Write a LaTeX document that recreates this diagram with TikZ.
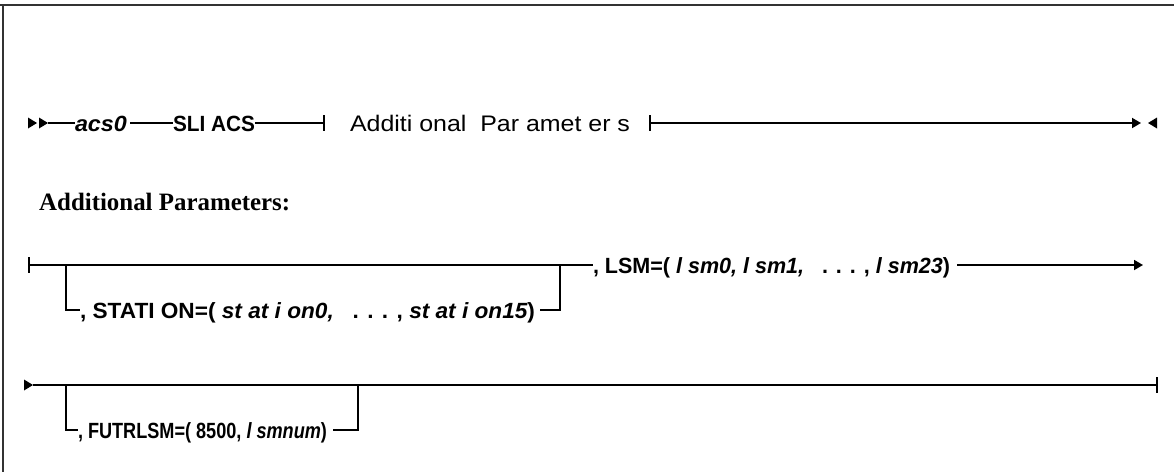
\documentclass[tikz,border=0pt]{standalone}
\usepackage{graphicx}
\usepackage{fontspec}
\setmainfont{Liberation Sans}
\newfontfamily\serifhead{Liberation Serif}
\usetikzlibrary{arrows.meta}
\newcommand\fitw[2]{\resizebox{#1pt}{\height}{#2}}
\begin{document}
\begin{tikzpicture}[x=1pt,y=-1pt,
  rail/.style={line width=1.8pt, black},
  endarrow/.style={rail, -{Triangle[length=9pt,width=10pt]}},
  tip/.style={fill=black},
  lbl/.style={anchor=base west, inner sep=0pt, outer sep=0pt, font=\bfseries\fontsize{22}{22}\selectfont},
  lblr/.style={anchor=base west, inner sep=0pt, outer sep=0pt, font=\fontsize{22.5}{22.5}\selectfont},
  head/.style={anchor=base west, inner sep=0pt, font=\serifhead\bfseries\fontsize{25}{25}\selectfont},
  border/.style={line width=2.6pt, black!80}]
\useasboundingbox (0,0) rectangle (1174,472);
% frame
\draw[border] (0,5) -- (1174,5);
\draw[border] (3,5) -- (3,472);

% ---------- row 1 ----------
\coordinate (r1a) at (28,123);
\coordinate (r1b) at (39,123);
\coordinate (r1s) at (48,123);
\fill[tip] (r1a) ++(0,-5.5) -- ++(9,5.5) -- ++(-9,5.5) -- cycle;
\fill[tip] (r1b) ++(0,-5.5) -- ++(9,5.5) -- ++(-9,5.5) -- cycle;
\node[lbl] (acs) at (75,131) {\fitw{52}{\itshape acs0}};
\node[lbl] (sli) at (173,131) {\fitw{82}{SLI ACS}};
\coordinate (t1) at (324,123);
\node[lblr] (ap) at (350,131) {\fitw{280}{Additi onal\ \ Par amet er s}};
\coordinate (t2) at (650,123);
\coordinate (e1) at (1141,123);
\coordinate (e1b) at (1148,123);
\draw[rail] (r1s) -- (acs.west |- r1s);
\draw[rail] (acs.east |- r1s) ++(3,0) -- (sli.west |- r1s);
\draw[rail] (sli.east |- r1s) -- (t1);
\draw[rail] (t1) ++(0,-8) -- ++(0,16);
\draw[rail] (t2) ++(0,-8) -- ++(0,16);
\draw[endarrow] (t2) -- (e1);
\fill[tip] (e1b) -- ++(9,-5.5) -- ++(0,11) -- cycle;

% ---------- heading ----------
\node[head] (hd) at (39,210) {\fitw{251}{Additional Parameters:}};

% ---------- row 2 ----------
\coordinate (r2s) at (29,265);
\coordinate (b2l) at (66,265);
\coordinate (b2ld) at (66,310);
\coordinate (b2r) at (560,265);
\coordinate (b2rd) at (560,310);
\coordinate (e2) at (1143,265);
\node[lbl] (sta) at (80,318) {\fitw{455}{, STATI ON=( {\itshape st at i on0,}\ \ \ . . . , {\itshape st at i on15})}};
\node[lbl] (lsm) at (593,273) {\fitw{357}{, LSM=( {\itshape l sm0, l sm1,}\ \ \ . . . , {\itshape l sm23})}};
\draw[rail] (r2s) ++(0,-8) -- ++(0,16);
\draw[rail] (r2s) -- (lsm.west |- r2s);
\draw[rail] (b2l) -- (b2ld) -- (sta.west |- b2ld);
\draw[rail] (sta.east |- b2rd) ++(5,0) -- (b2rd) -- (b2r);
\draw[endarrow] (lsm.east |- e2) ++(7,0) -- (e2);

% ---------- row 3 ----------
\coordinate (r3a) at (24,385);
\coordinate (r3s) at (33,385);
\coordinate (b3l) at (66,385);
\coordinate (b3ld) at (66,430);
\coordinate (b3r) at (358,385);
\coordinate (b3rd) at (358,430);
\coordinate (e3) at (1157,385);
\fill[tip] (r3a) ++(0,-5.5) -- ++(9,5.5) -- ++(-9,5.5) -- cycle;
\node[lbl] (fut) at (78,438) {\fitw{249}{, FUTRLSM=( 8500, {\itshape l smnum})}};
\draw[rail] (r3s) -- (e3);
\draw[rail] (e3) ++(0,-8) -- ++(0,16);
\draw[rail] (b3l) -- (b3ld) -- (fut.west |- b3ld);
\draw[rail] (fut.east |- b3rd) ++(6,0) -- (b3rd) -- (b3r);
\end{tikzpicture}
\end{document}
